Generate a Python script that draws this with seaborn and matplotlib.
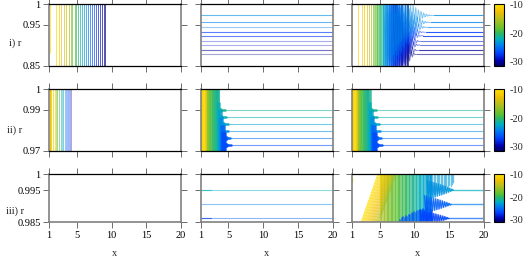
import numpy as np
import pandas as pd
import matplotlib
matplotlib.use("Agg")
import matplotlib.pyplot as plt
import seaborn as sns
from matplotlib.colors import LinearSegmentedColormap, Normalize
from matplotlib.cm import ScalarMappable

sns.set_theme(style="white")
plt.rcParams["font.family"] = ["Liberation Serif", "DejaVu Serif"]
plt.rcParams["axes.unicode_minus"] = False

# ---------------- data ----------------
x_ticks = [1, 5, 10, 15, 20]
row_labels = ["i) r", "ii) r", "iii) r"]
ylims = [(0.85, 1.0), (0.97, 1.0), (0.985, 1.0)]
yticks = [[0.85, 0.95, 1.0], [0.97, 0.99, 1.0], [0.985, 0.995, 1.0]]
ytick_labels = [["0.85", "0.95", "1"], ["0.97", "0.99", "1"], ["0.985", "0.995", "1"]]
cbar_ticks = [-10, -20, -30]
c_range = (-31.3, -9.8)

# row i : transient vertical branches
r1_vert_x = [1.10, 1.96, 2.44, 2.77, 3.15, 3.49, 3.82, 4.11, 4.35, 4.68, 4.92, 5.21, 5.45,
             5.74, 6.07, 6.36, 6.60, 6.89, 7.17, 7.46, 7.75, 8.03, 8.27, 8.60, 8.89, 9.13]
r1_vert_c = [-10.0, -10.6, -11.4, -12.2, -13.0, -14.2, -15.6, -16.8, -17.8, -19.0, -19.8, -20.6,
             -21.4, -22.2, -23.0, -23.8, -24.6, -25.4, -26.2, -27.0, -27.8, -28.6, -29.2,
             -29.8, -30.4, -31.0]
r1_vert_lo = [0.88] + [0.85] * 25
# extra transient branches only visible in the right-hand panel
r1_extra_x = [4.25, 4.45, 4.60, 4.80, 5.00, 5.10, 5.30, 5.55, 5.65, 5.90]
r1_extra_c = [-17.5, -18.3, -19.0, -19.6, -20.2, -20.6, -21.2, -21.8, -22.3, -22.8]
# row i : asymptotic levels
r1_lvl_r = [0.973, 0.956, 0.944, 0.932, 0.923, 0.9095, 0.9005, 0.8875, 0.8777]
r1_lvl_c = [-23.5, -24.0, -24.5, -27.0, -27.5, -28.5, -29.0, -30.0, -30.5]
r1_lvl_a = [0.6, 0.6, 0.4, 0.65, 0.6, 0.35, 0.33, 0.55, 0.35]
r1_osc_x0 = [5.6, 5.8, 6.0, 6.2, 6.4, 6.6, 6.8, 7.0, 7.2]
r1_osc_x1 = [12.8, 12.4, 12.0, 11.6, 11.3, 11.0, 10.8, 10.6, 10.4]

# row ii
r2_vert_x = [1.10, 1.24, 1.57, 1.81, 2.05, 2.19, 2.43, 2.67, 2.86, 3.00, 3.24, 3.38,
             3.57, 3.71, 3.86, 4.00, 4.10]
r2_vert_c = [-12.5, -12.0, -11.0, -10.5, -16.5, -18.0, -19.5, -20.5, -21.5, -22.5, -24.0,
             -25.0, -26.0, -27.0, -28.0, -29.0, -30.0]
r2_vert_a = [0.95, 0.9, 0.8, 0.8, 0.6, 0.7, 0.6, 0.6, 0.5, 0.6, 0.5, 0.5, 0.45, 0.45, 0.4, 0.4, 0.4]
r2_band_x = [1.00, 1.10, 1.20, 1.30, 1.40, 1.50, 1.60, 1.70, 1.80, 1.90, 2.00, 2.10, 2.20,
             2.30, 2.40, 2.50, 2.60, 2.70, 2.80, 2.90, 3.00, 3.10, 3.20, 3.30]
r2_band_c = [-12.6, -12.4, -12.0, -11.0, -10.6, -10.4, -11.0, -12.0, -15.5, -16.5, -17.0,
             -17.5, -18.0, -18.5, -19.0, -19.3, -19.6, -19.9, -20.2, -20.4, -20.6, -20.8,
             -21.0, -21.2]
r2_lvl_r = [0.9899, 0.9863, 0.9829, 0.9795, 0.9760, 0.9726]
r2_lvl_c = [-21.0, -21.8, -22.6, -23.6, -25.2, -26.5]
r2_grp_left = [3.30, 3.45, 3.60, 3.75, 3.90, 4.05]
r2_grp_top = [1.0, 0.9935, 0.9895, 0.9860, 0.9820, 0.9785]
r2_bulb_x = [3.76, 3.86, 4.14, 4.24, 4.60, 4.70]
r2_tip_x = [4.50, 4.70, 4.90, 5.00, 5.20, 5.30]

# row iii
r3_lvl_r = [0.9951, 0.9906, 0.98625]
r3_lvl_c = [-22.0, -24.2, -25.5]
r3_diag_x0 = [2.35, 2.50, 2.65, 2.80, 2.95, 3.10, 3.25, 3.40, 3.55, 3.70, 3.85, 4.00,
              4.15, 4.30, 4.45, 4.60, 4.75, 4.90]
r3_diag_x1 = [4.75, 4.90, 5.05, 5.20, 5.35, 5.50, 5.65, 5.80, 5.95, 6.10, 6.25, 6.40,
              6.55, 6.70, 6.85, 7.00, 7.15, 7.30]
r3_diag_c = [-10.0, -10.2, -10.4, -10.6, -10.8, -11.0, -11.3, -11.6, -11.9, -12.2, -12.5,
             -12.8, -13.1, -13.5, -14.0, -14.6, -15.3, -16.0]
r3_vert_x = [5.2, 5.4, 5.6, 5.8, 6.0, 6.2, 6.4, 6.6, 6.8, 7.0, 7.2, 7.4, 7.6, 7.8, 8.0,
             8.2, 8.4, 8.6, 8.8, 9.0, 9.2, 9.4, 9.6, 9.8, 10.0, 10.2, 10.4, 10.6, 10.8,
             11.0, 11.2, 11.4, 11.6, 11.8, 12.0, 12.2, 12.4]
r3_vert_c = [-15.0, -15.4, -15.8, -16.2, -16.6, -17.0, -17.3, -17.6, -17.9, -18.1, -18.3,
             -18.5, -18.7, -18.9, -19.1, -19.3, -19.5, -19.7, -19.9, -20.1, -20.3, -20.5,
             -20.7, -20.9, -21.1, -21.3, -21.5, -21.7, -21.9, -22.1, -22.3, -22.5, -22.7,
             -22.9, -23.0, -23.1, -23.2]
r3_bb_x = [8.0, 8.2, 8.4, 8.6, 8.8, 9.0, 9.2, 9.4, 9.6, 9.8, 10.0, 10.2, 10.4, 10.6, 10.8,
           11.0, 11.2, 11.4, 11.6, 11.8, 12.0, 12.2, 12.4, 12.6]
r3_bb_hi = [0.9858, 0.9862, 0.9866, 0.9864, 0.9870, 0.9868, 0.9874, 0.9872, 0.9878, 0.9876,
            0.9882, 0.9880, 0.9886, 0.9884, 0.9890, 0.9888, 0.9893, 0.9890, 0.9895, 0.9892,
            0.9896, 0.9893, 0.9890, 0.9888]
r3_bb_c = -26.0
r3_sp_x = [12.0, 12.2, 12.4, 12.6, 12.8, 13.0, 13.2, 13.4, 13.6, 13.8, 14.0, 14.2, 14.4,
           14.6, 14.8, 15.0, 15.2, 15.4, 15.6]
r3_sp_lo = [0.9940, 0.9945, 0.9936, 0.9948, 0.9940, 0.9952, 0.9942, 0.9955, 0.9946, 0.9958,
            0.9950, 0.9960, 0.9955, 0.9962, 0.9958, 0.9966, 0.9962, 0.9970, 0.9975]
r3_sp_c = -23.0
r3_osc_x0 = [11.8, 11.4, 10.8]
r3_osc_x1 = [15.6, 15.3, 15.0]
r3_osc_amp = [0.0030, 0.0028, 0.0026]
r3_dot_x = [1.02, 1.02]
r3_dot_r = [0.9987, 0.9977]

# ---------------- style ----------------
cmap = LinearSegmentedColormap.from_list("pal", [
    (0.00, "#000060"), (0.08, "#0000b0"), (0.20, "#0040ff"), (0.33, "#0080f0"),
    (0.43, "#00b0c0"), (0.53, "#30b860"), (0.60, "#60c030"), (0.75, "#b0c020"),
    (0.88, "#f0c000"), (1.00, "#ffe000")])
norm = Normalize(vmin=c_range[0], vmax=c_range[1])

W, H = 526, 259
fig = plt.figure(figsize=(W / 100, H / 100), dpi=100)

col_px = [(49, 181), (200.7, 332.7), (351.7, 484)]
row_px = [(4.3, 65.7), (89.3, 150.7), (174.3, 222.3)]
cbar_px = (494, 504)


def rect(x0, x1, y0, y1):
    return [x0 / W, 1 - y1 / H, (x1 - x0) / W, (y1 - y0) / H]


uid = [0]


def draw(ax, segs, lw=0.6, alpha=1.0):
    rows = []
    for xs, ys, c in segs:
        uid[0] += 1
        for k, (a, b) in enumerate(zip(xs, ys)):
            rows.append((a, b, c, uid[0], k))
    if not rows:
        return
    df = pd.DataFrame(rows, columns=["x", "r", "c", "uid", "k"])
    sns.lineplot(data=df, x="x", y="r", hue="c", units="uid", estimator=None, sort=False,
                 palette=cmap, hue_norm=norm, legend=False, lw=lw, alpha=alpha, ax=ax)


def zigzag(x0, x1, level, amp, lo, hi, step, phase, p=1.0):
    xs = np.arange(x0 + phase, x1, step)
    f = np.clip((x1 - xs) / (x1 - x0), 0, 1) ** p
    up = np.minimum(hi, level + f * amp)
    dn = np.maximum(lo, level - f * amp)
    ys = np.where(np.arange(len(xs)) % 2 == 0, up, dn)
    return [x0 + phase] + list(xs) + [x1], [lo] + list(ys) + [level]


axes = [[None] * 3 for _ in range(3)]
for i in range(3):
    for j in range(3):
        ax = fig.add_axes(rect(col_px[j][0], col_px[j][1], row_px[i][0], row_px[i][1]))
        axes[i][j] = ax

# ---- row i ----
verts1 = [([x, x], [1.0, lo], c) for x, lo, c in zip(r1_vert_x, r1_vert_lo, r1_vert_c)]
draw(axes[0][0], verts1, lw=0.55, alpha=0.85)
draw(axes[0][2], [([x, x], [1.0, 0.85], c) for x, c in zip(r1_extra_x, r1_extra_c)],
     lw=0.8, alpha=0.55)
draw(axes[0][2], verts1, lw=0.55, alpha=0.85)
for L, c, a in zip(r1_lvl_r, r1_lvl_c, r1_lvl_a):
    draw(axes[0][1], [([1, 20], [L, L], c)], lw=0.8, alpha=a)
zz = []
for L, c, x0, x1 in zip(r1_lvl_r, r1_lvl_c, r1_osc_x0, r1_osc_x1):
    for ph in (0.0, 0.09):
        xs, ys = zigzag(x0, x1, L, 0.15, 0.85, 1.0, 0.19, ph, p=2.0)
        zz.append((xs, ys, c))
draw(axes[0][2], zz, lw=0.4, alpha=0.45)
for L, c, a, x1 in zip(r1_lvl_r, r1_lvl_c, r1_lvl_a, r1_osc_x1):
    draw(axes[0][2], [([x1, 20], [L, L], c)], lw=0.8, alpha=min(1, a + 0.2))

# ---- row ii ----
for x, c, a in zip(r2_vert_x, r2_vert_c, r2_vert_a):
    draw(axes[1][0], [([x, x], [0.97, 1.0], c)], lw=0.9 if x < 1.2 else 0.6, alpha=a)
for j in (1, 2):
    ax = axes[1][j]
    draw(ax, [([x, x], [0.97, 1.0], c) for x, c in zip(r2_band_x, r2_band_c)], lw=1.1, alpha=0.8)
    for L, c, xl, top, xb, xt in zip(r2_lvl_r, r2_lvl_c, r2_grp_left, r2_grp_top, r2_bulb_x, r2_tip_x):
        gx = np.arange(xl, xb - 0.05, 0.1)
        draw(ax, [([x, x], [0.97, top], c) for x in gx], lw=1.1, alpha=0.8)
        draw(ax, [([xb, 20], [L, L], c)], lw=0.8, alpha=0.55)
        draw(ax, [([xb, xt], [L, L], c)], lw=1.8, alpha=0.9)
        ax.plot([xb], [L], "o", ms=3.3, mec="none", color=cmap(norm(c)))

# ---- row iii ----
for L, c in zip(r3_lvl_r, r3_lvl_c):
    draw(axes[2][1], [([1, 20], [L, L], c)], lw=0.8, alpha=0.45)
draw(axes[2][1], [([1, 2.5], [r3_lvl_r[0]] * 2, r3_lvl_c[0]),
                  ([1, 2.5], [r3_lvl_r[2]] * 2, -27.5)], lw=0.8, alpha=0.6)
ax = axes[2][2]
draw(ax, [([x, x], [0.985, 1.0], c) for x, c in zip(r3_vert_x, r3_vert_c)], lw=1.3, alpha=0.75)
draw(ax, [([a, b], [0.985, 1.0], c) for a, b, c in zip(r3_diag_x0, r3_diag_x1, r3_diag_c)],
     lw=0.5, alpha=1.0)
draw(ax, [([x, x], [0.985, h], r3_bb_c) for x, h in zip(r3_bb_x, r3_bb_hi)], lw=1.3, alpha=0.7)
draw(ax, [([x, x], [1.0, lo], r3_sp_c) for x, lo in zip(r3_sp_x, r3_sp_lo)], lw=1.0, alpha=0.55)
zz = []
for L, c, x0, x1, amp in zip(r3_lvl_r, r3_lvl_c, r3_osc_x0, r3_osc_x1, r3_osc_amp):
    for ph in (0.0, 0.04, 0.08, 0.12):
        xs, ys = zigzag(x0, x1, L, amp, 0.985, 1.0, 0.16, ph, p=0.8)
        zz.append((xs[1:], ys[1:], c - 1.5))
draw(ax, zz, lw=0.6, alpha=0.5)
for L, c, x1 in zip(r3_lvl_r, r3_lvl_c, r3_osc_x1):
    draw(ax, [([x1 - 1, 20], [L, L], c)], lw=1.0, alpha=0.7)
draw(ax, [(r3_dot_x, r3_dot_r, -10.0)], lw=1.0, alpha=0.9)

# ---- axes formatting ----
for i in range(3):
    for j in range(3):
        ax = axes[i][j]
        ax.set_xlim(1, 20)
        ax.set_ylim(*ylims[i])
        ax.set_xticks(x_ticks)
        ax.set_yticks(yticks[i])
        ax.set_xlabel("")
        ax.set_ylabel("")
        ax.set_facecolor("white")
        if i == 2:
            ax.set_xticklabels([str(t) for t in x_ticks])
        else:
            ax.set_xticklabels([])
        if j == 0:
            ax.set_yticklabels(ytick_labels[i])
        else:
            ax.set_yticklabels([])
        ax.tick_params(axis="both", which="both", direction="out", length=4, width=0.6,
                       color="#555555", top=True, right=True, bottom=True, left=True,
                       labelsize=7.5, pad=2, labelcolor="black")
        for s in ("top", "bottom"):
            ax.spines[s].set_color("black")
            ax.spines[s].set_linewidth(0.9)
        for s in ("left", "right"):
            ax.spines[s].set_color("#808080")
            ax.spines[s].set_linewidth(1.2)
        if i == 2:
            ax.spines["bottom"].set_color("#808080")
            ax.spines["bottom"].set_linewidth(1.2)
        for s in ax.spines.values():
            s.set_zorder(5)

    # colour bar
    cax = fig.add_axes(rect(cbar_px[0], cbar_px[1], row_px[i][0], row_px[i][1]))
    sm = ScalarMappable(norm=norm, cmap=cmap)
    cb = fig.colorbar(sm, cax=cax)
    cb.set_ticks(cbar_ticks)
    cb.set_ticklabels([str(t) for t in cbar_ticks])
    cb.outline.set_linewidth(0.8)
    cb.outline.set_edgecolor("black")
    cax.tick_params(axis="y", direction="in", length=3, width=0.6, color="#222222",
                    left=True, right=True, labelsize=7.5, pad=4)

    # row label
    yl = [43, 130, 211][i]
    fig.text(15 / W, 1 - yl / H, row_labels[i], ha="center", va="center", fontsize=7.5)

for j in range(3):
    xc = (col_px[j][0] + col_px[j][1]) / 2
    fig.text(xc / W, 1 - 253 / H, "x", ha="center", va="center", fontsize=7.5)

fig.savefig("out.png", dpi=100)
